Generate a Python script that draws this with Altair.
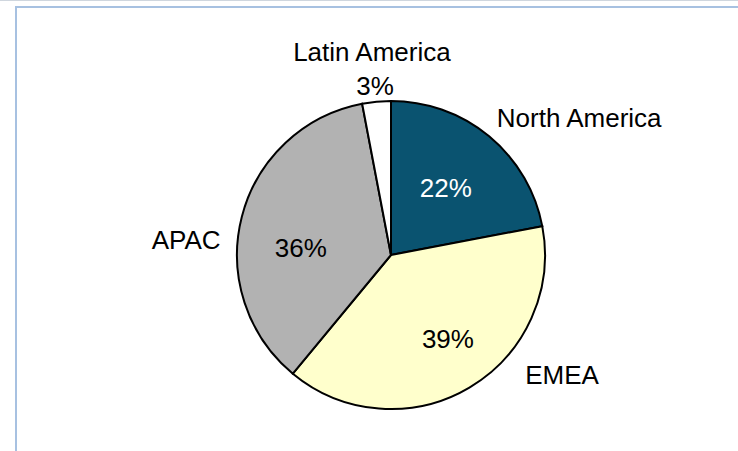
import altair as alt
import pandas as pd
import math

regions = ["North America", "EMEA", "APAC", "Latin America"]
shares = [22, 39, 36, 3]
colors = ["#0a5370", "#ffffcc", "#b2b2b2", "#ffffff"]

df = pd.DataFrame({"region": regions, "share": shares, "order": list(range(len(regions)))})
df["pct"] = df["share"].astype(str) + "%"

W, H = 738, 451
CX, CY, R = 391, 255, 154
FONT = "Liberation Sans"
FS = 26

theta_scale = alt.Scale(domain=[0, 100], range=[0, 2 * math.pi])

stacked = alt.Chart(df).transform_stack(
    stack="share", groupby=[], as_=["s0", "s1"], sort=[alt.SortField("order")]
).transform_calculate(mid="(datum.s0 + datum.s1) / 2")

pie = stacked.mark_arc(stroke="black", strokeWidth=2, outerRadius=R).encode(
    theta=alt.Theta("s0:Q", scale=theta_scale, stack=None),
    theta2="s1:Q",
    color=alt.Color("region:N", scale=alt.Scale(domain=regions, range=colors), legend=None),
    x=alt.value(CX), y=alt.value(CY),
)


def label(region, field, radius, dx=0, dy=0, color="black"):
    return stacked.transform_filter(alt.datum.region == region).mark_text(
        radius=radius, font=FONT, fontSize=FS, color=color, dx=dx, dy=dy
    ).encode(
        theta=alt.Theta("mid:Q", scale=theta_scale, stack=None),
        text=f"{field}:N",
        x=alt.value(CX), y=alt.value(CY),
    )


pct_labels = [
    label("North America", "pct", 86, color="white"),
    label("EMEA", "pct", 102, dx=5, dy=-3),
    label("APAC", "pct", 90, dx=-3, dy=16),
    label("Latin America", "pct", 169),
]
name_labels = [
    label("North America", "region", 165, dx=83, dy=-9),
    label("EMEA", "region", 165, dx=87, dy=-21),
    label("APAC", "region", 165, dx=-45, dy=27),
    label("Latin America", "region", 203),
]

top_line = alt.Chart(df).mark_rule(color="#cfd6de", strokeWidth=1).encode(
    x=alt.value(0), x2=alt.value(W), y=alt.value(0.5)
)
box_top = alt.Chart(df).mark_rule(color="#a7c1e1", strokeWidth=2).encode(
    x=alt.value(15), x2=alt.value(W), y=alt.value(7)
)
box_left = alt.Chart(df).mark_rule(color="#a7c1e1", strokeWidth=2).encode(
    x=alt.value(16), y=alt.value(6), y2=alt.value(H)
)

chart = alt.layer(
    top_line, box_top, box_left, pie, *pct_labels, *name_labels
).properties(
    width=W, height=H, padding=0, autosize=alt.AutoSizeParams(type="none")
).configure_view(stroke=None)

chart.save("out.html", embed_options={"renderer": "svg", "actions": False})
